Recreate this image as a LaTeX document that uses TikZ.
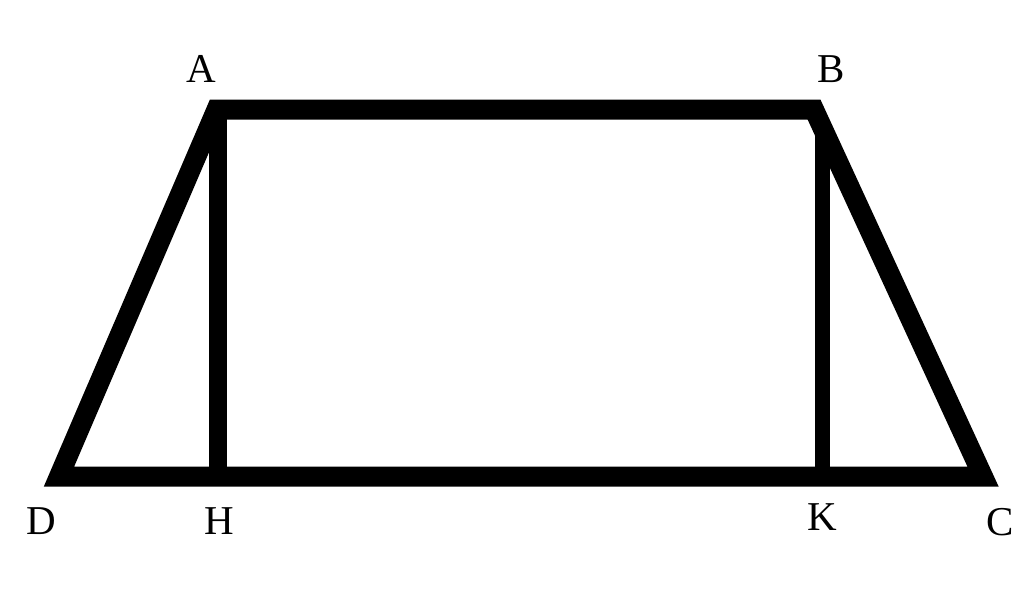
\documentclass[tikz,border=0pt]{standalone}
\usepackage{fontspec}
\setmainfont{Liberation Serif}
\begin{document}
\begin{tikzpicture}[x=1pt,y=-1pt,
  edge/.style={line width=20pt, line join=miter, miter limit=10},
  lbl/.style={inner sep=0pt, font=\fontsize{41}{41}\selectfont}]
\useasboundingbox (0,0) rectangle (1024,614);
\coordinate (A) at (216.5,109.5);
\coordinate (B) at (814,109.5);
\coordinate (C) at (983,476.5);
\coordinate (D) at (59,476.5);
\coordinate (Ht) at (218,112);
\coordinate (H) at (218,476.5);
\coordinate (Kt) at (822,120);
\coordinate (K) at (822,476.5);
\draw[edge] (A) -- (B) -- (C) -- (D) -- cycle;
\draw[line width=18pt] (Ht) -- (H);
\draw[line width=15pt] (Kt) -- (K);
\node[lbl] (lA) at (201,69) {A};
\node[lbl] (lB) at (831,69) {B};
\node[lbl] (lC) at (1000,522) {C};
\node[lbl] (lD) at (41,521) {D};
\node[lbl] (lH) at (219,521) {H};
\node[lbl] (lK) at (822,517) {K};
\end{tikzpicture}
\end{document}
